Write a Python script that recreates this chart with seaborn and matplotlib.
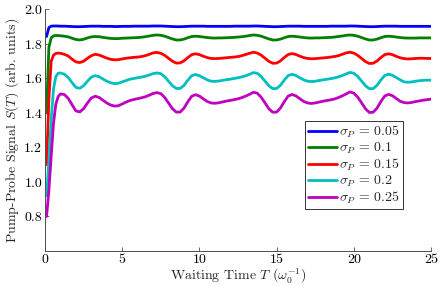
import numpy as np
import pandas as pd
import matplotlib
matplotlib.use("Agg")
import matplotlib.pyplot as plt
import seaborn as sns

# waiting time grid (omega_0^-1)
waiting_time = np.concatenate([[0.1, 0.25, 0.4, 0.55, 0.7, 0.85],
                               np.arange(1.0, 25.001, 0.25)])

sigma_labels = [r"$\sigma_P\,=\,0.05$", r"$\sigma_P\,=\,0.1$", r"$\sigma_P\,=\,0.15$",
                r"$\sigma_P\,=\,0.2$", r"$\sigma_P\,=\,0.25$"]

# signal values, one list per pulse width
signal_005 = [
    1.843, 1.895, 1.903, 1.904, 1.904, 1.904,
    1.903, 1.903, 1.902, 1.901, 1.900, 1.900, 1.901, 1.902, 1.903, 1.903, 1.903, 1.902, 1.902,
    1.902, 1.901, 1.901, 1.902, 1.902, 1.902, 1.903, 1.903, 1.903, 1.903, 1.903, 1.904,
    1.904, 1.904, 1.903, 1.902, 1.901, 1.900, 1.900, 1.901, 1.902, 1.903, 1.903, 1.903, 1.903,
    1.902, 1.902, 1.902, 1.902, 1.902, 1.902, 1.902, 1.903, 1.903, 1.903, 1.903, 1.903,
    1.904, 1.904, 1.903, 1.902, 1.901, 1.900, 1.900, 1.901, 1.902, 1.903, 1.903, 1.903, 1.903,
    1.902, 1.902, 1.902, 1.902, 1.902, 1.902, 1.902, 1.903, 1.903, 1.903, 1.903, 1.903,
    1.904, 1.904, 1.903, 1.902, 1.901, 1.900, 1.900, 1.901, 1.902, 1.903, 1.903, 1.903, 1.903,
    1.902, 1.902, 1.902, 1.902, 1.902, 1.902, 1.902, 1.902, 1.902,
]
signal_010 = [
    1.400, 1.780, 1.835, 1.847, 1.849, 1.849,
    1.847, 1.845, 1.841, 1.833, 1.826, 1.823, 1.827, 1.835, 1.841, 1.843, 1.842, 1.838, 1.835,
    1.832, 1.831, 1.831, 1.833, 1.834, 1.835, 1.836, 1.837, 1.839, 1.842, 1.846, 1.850,
    1.852, 1.850, 1.845, 1.837, 1.829, 1.823, 1.823, 1.828, 1.836, 1.843, 1.845, 1.843, 1.840,
    1.837, 1.835, 1.834, 1.835, 1.835, 1.836, 1.837, 1.838, 1.840, 1.842, 1.845, 1.849,
    1.852, 1.850, 1.845, 1.837, 1.829, 1.823, 1.823, 1.828, 1.836, 1.843, 1.845, 1.843, 1.840,
    1.837, 1.835, 1.834, 1.835, 1.835, 1.836, 1.837, 1.838, 1.840, 1.843, 1.846, 1.850,
    1.852, 1.850, 1.845, 1.837, 1.829, 1.823, 1.823, 1.828, 1.836, 1.843, 1.845, 1.843, 1.840,
    1.837, 1.835, 1.834, 1.834, 1.834, 1.835, 1.835, 1.835, 1.835,
]
signal_015 = [
    1.100, 1.480, 1.700, 1.735, 1.745, 1.747,
    1.746, 1.740, 1.730, 1.712, 1.696, 1.692, 1.700, 1.717, 1.732, 1.740, 1.736, 1.727, 1.718,
    1.711, 1.708, 1.709, 1.713, 1.717, 1.720, 1.722, 1.724, 1.727, 1.732, 1.740, 1.748,
    1.751, 1.746, 1.734, 1.717, 1.700, 1.689, 1.690, 1.702, 1.721, 1.738, 1.743, 1.738, 1.729,
    1.721, 1.716, 1.715, 1.716, 1.718, 1.720, 1.722, 1.724, 1.727, 1.732, 1.739, 1.746,
    1.752, 1.747, 1.735, 1.717, 1.699, 1.688, 1.689, 1.702, 1.722, 1.739, 1.744, 1.739, 1.729,
    1.721, 1.716, 1.714, 1.715, 1.717, 1.719, 1.721, 1.724, 1.727, 1.732, 1.740, 1.748,
    1.752, 1.747, 1.734, 1.716, 1.698, 1.687, 1.688, 1.701, 1.721, 1.738, 1.743, 1.738, 1.728,
    1.720, 1.715, 1.713, 1.714, 1.716, 1.717, 1.717, 1.716, 1.716,
]
signal_020 = [
    0.920, 1.120, 1.360, 1.540, 1.610, 1.630,
    1.632, 1.625, 1.606, 1.576, 1.548, 1.543, 1.558, 1.584, 1.608, 1.616, 1.610, 1.597, 1.584,
    1.575, 1.570, 1.572, 1.580, 1.588, 1.596, 1.600, 1.604, 1.608, 1.613, 1.620, 1.628,
    1.632, 1.628, 1.610, 1.584, 1.558, 1.542, 1.542, 1.560, 1.590, 1.616, 1.623, 1.616, 1.604,
    1.592, 1.584, 1.583, 1.585, 1.589, 1.593, 1.596, 1.600, 1.604, 1.609, 1.616, 1.624,
    1.634, 1.629, 1.611, 1.584, 1.557, 1.541, 1.542, 1.561, 1.591, 1.617, 1.624, 1.617, 1.604,
    1.592, 1.584, 1.582, 1.584, 1.588, 1.592, 1.595, 1.599, 1.603, 1.609, 1.617, 1.626,
    1.635, 1.630, 1.612, 1.585, 1.558, 1.541, 1.541, 1.560, 1.591, 1.617, 1.625, 1.618, 1.605,
    1.592, 1.580, 1.578, 1.580, 1.584, 1.587, 1.589, 1.590, 1.590,
]
signal_025 = [
    0.800, 0.950, 1.150, 1.340, 1.450, 1.495,
    1.510, 1.507, 1.485, 1.448, 1.412, 1.406, 1.425, 1.458, 1.487, 1.497, 1.490, 1.474, 1.458,
    1.446, 1.440, 1.442, 1.452, 1.463, 1.472, 1.478, 1.483, 1.488, 1.494, 1.503, 1.513,
    1.518, 1.512, 1.490, 1.458, 1.425, 1.405, 1.405, 1.428, 1.465, 1.497, 1.506, 1.498, 1.482,
    1.467, 1.458, 1.456, 1.459, 1.464, 1.469, 1.473, 1.477, 1.482, 1.489, 1.498, 1.508,
    1.520, 1.514, 1.491, 1.458, 1.424, 1.404, 1.405, 1.429, 1.466, 1.498, 1.507, 1.499, 1.483,
    1.467, 1.458, 1.455, 1.458, 1.463, 1.468, 1.472, 1.476, 1.481, 1.489, 1.499, 1.510,
    1.522, 1.515, 1.492, 1.459, 1.425, 1.403, 1.404, 1.428, 1.466, 1.498, 1.508, 1.500, 1.484,
    1.468, 1.460, 1.458, 1.461, 1.466, 1.470, 1.474, 1.477, 1.480,
]

x_ticks = [0, 5, 10, 15, 20, 25]
y_ticks = [0.8, 1.0, 1.2, 1.4, 1.6, 1.8, 2.0]

line_colors = ["#0000ff", "#008000", "#ff0000", "#00bfbf", "#bf00bf"]

frames = []
for label, values in zip(sigma_labels,
                         [signal_005, signal_010, signal_015, signal_020, signal_025]):
    frames.append(pd.DataFrame({"T": waiting_time, "S": values, "sigma": label}))
df = pd.concat(frames, ignore_index=True)

sns.set_theme(style="ticks")
plt.rcParams["font.family"] = ["cmr10", "DejaVu Serif"]
plt.rcParams["mathtext.fontset"] = "cm"
plt.rcParams["axes.formatter.use_mathtext"] = True

fig = plt.figure(figsize=(4.43, 2.86), dpi=100)
ax = fig.add_axes([0.1016, 0.1224, 0.8714, 0.8446])

sns.lineplot(data=df, x="T", y="S", hue="sigma", palette=line_colors,
             linewidth=2.0, estimator=None, sort=False, ax=ax)

ax.set_xlim(0, 25)
ax.set_ylim(0.6, 2.0)
ax.set_xticks(x_ticks)
ax.set_yticks(y_ticks)
ax.set_xticklabels([str(v) for v in x_ticks])
ax.set_yticklabels([f"{v:.1f}" for v in y_ticks])
ax.tick_params(direction="in", length=3, width=0.6, colors="0.3",
               labelcolor="black", labelsize=10, pad=2)
for side in ["top", "right"]:
    ax.spines[side].set_visible(False)
for side in ["left", "bottom"]:
    ax.spines[side].set_color("0.3")
    ax.spines[side].set_linewidth(0.7)

ax.set_xlabel(r"Waiting Time $T$ $(\omega_0^{-1})$", fontsize=10, labelpad=0)
ax.set_ylabel(r"Pump-Probe Signal $S(T)$ (arb. units)", fontsize=10, labelpad=2)

handles, labels = ax.get_legend_handles_labels()
for h in handles:
    h.set_linewidth(2.0)
leg = ax.legend(handles, labels, loc="lower right", bbox_to_anchor=(0.927, 0.174),
                fontsize=10, frameon=True, fancybox=False, framealpha=1,
                edgecolor="0.2", borderpad=0.2, labelspacing=0.05,
                handlelength=2.1, handletextpad=0.15, borderaxespad=0)
leg.get_frame().set_linewidth(0.7)

fig.savefig("out.png", dpi=100)
